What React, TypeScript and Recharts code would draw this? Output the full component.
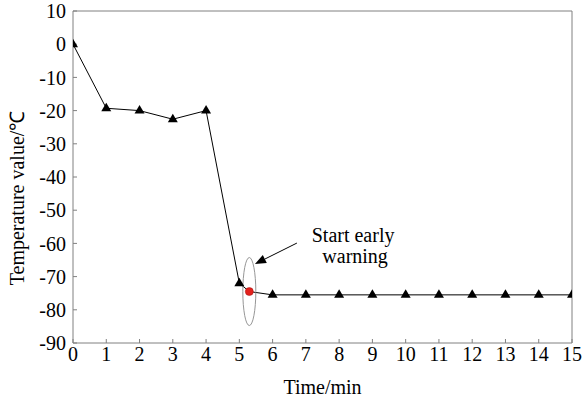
import React from 'react';
import { LineChart, Line, XAxis, YAxis, ReferenceLine, ReferenceDot, Label } from 'recharts';

const times = [0, 1, 2, 3, 4, 5, 5.3, 6, 7, 8, 9, 10, 11, 12, 13, 14, 15];
const temps = [0, -19.3, -20, -22.6, -20, -72, -74.5, -75.5, -75.5, -75.5, -75.5, -75.5, -75.5, -75.5, -75.5, -75.5, -75.5];
const warningIndex = 6;
const xTicks = [0, 1, 2, 3, 4, 5, 6, 7, 8, 9, 10, 11, 12, 13, 14, 15];
const yTicks = [10, 0, -10, -20, -30, -40, -50, -60, -70, -80, -90];
const annotationLines = ['Start early', 'warning'];

const data = times.map((t, i) => ({ t, v: temps[i] }));

const FONT = 'Liberation Serif, Times New Roman, serif';
const AXIS = '#808080';

const renderDot = (props: any) => {
  const { cx, cy, index } = props;
  if (cx == null || cy == null) return <g key={`d${index}`} />;
  if (index === warningIndex) {
    return <circle key={`d${index}`} cx={cx} cy={cy} r={4} fill="#e3211c" stroke="#a01010" strokeWidth={0.5} />;
  }
  return (
    <path
      key={`d${index}`}
      d={`M${cx},${cy - 5.5} L${cx + 5},${cy + 3} L${cx - 5},${cy + 3} Z`}
      fill="#000"
    />
  );
};

const ArrowShape = (props: any) => {
  const { x1, y1, x2, y2 } = props;
  const ang = Math.atan2(y2 - y1, x2 - x1);
  const L = 11;
  const W = 4.5;
  const bx = x2 - L * Math.cos(ang);
  const by = y2 - L * Math.sin(ang);
  const px = -Math.sin(ang) * W;
  const py = Math.cos(ang) * W;
  return (
    <g>
      <line x1={x1} y1={y1} x2={bx} y2={by} stroke="#000" strokeWidth={1} />
      <path d={`M${x2},${y2} L${bx + px},${by + py} L${bx - px},${by - py} Z`} fill="#000" />
    </g>
  );
};

export default function App() {
  return (
    <div style={{ position: 'absolute', left: 0, top: 0, background: '#fff' }}>
      <LineChart
        width={584}
        height={400}
        data={data}
        margin={{ top: 11, right: 12, left: 0, bottom: 0 }}
      >
        <XAxis
          dataKey="t"
          type="number"
          domain={[0, 15]}
          ticks={xTicks}
          interval={0}
          height={57}
          stroke={AXIS}
          tickSize={-4}
          tickMargin={8}
          tick={{ fill: '#000', fontSize: 20, fontFamily: FONT }}
          allowDataOverflow
        >
          <Label
            content={(p: any) => {
              const vb = p.viewBox;
              return (
                <text x={vb.x + vb.width / 2} y={394} textAnchor="middle" fontSize={20} fontFamily={FONT} fill="#000">
                  Time/min
                </text>
              );
            }}
          />
        </XAxis>
        <YAxis
          type="number"
          domain={[-90, 10]}
          ticks={yTicks}
          interval={0}
          width={73}
          stroke={AXIS}
          tickSize={-4}
          tickMargin={11}
          tick={{ fill: '#000', fontSize: 20, fontFamily: FONT }}
          allowDataOverflow
        >
          <Label
            content={(p: any) => {
              const vb = p.viewBox;
              const cx = 24;
              const cy = vb.y + vb.height / 2 + 21;
              return (
                <text
                  x={cx}
                  y={cy}
                  textAnchor="middle"
                  fontSize={20}
                  fontFamily={FONT}
                  fill="#000"
                  transform={`rotate(-90, ${cx}, ${cy})`}
                >
                  Temperature value/℃
                </text>
              );
            }}
          />
        </YAxis>
        <ReferenceLine y={10} stroke={AXIS} strokeWidth={1} />
        <ReferenceLine x={15} stroke={AXIS} strokeWidth={1} />
        <ReferenceDot
          x={times[warningIndex]}
          y={temps[warningIndex]}
          r={1}
          shape={(p: any) => (
            <ellipse cx={p.cx} cy={p.cy} rx={6.5} ry={34} fill="none" stroke="#8a8a8a" strokeWidth={0.9} />
          )}
        />
        <Line
          dataKey="v"
          stroke="#000"
          strokeWidth={1}
          isAnimationActive={false}
          dot={renderDot}
          activeDot={false}
        />
        <ReferenceLine
          segment={[{ x: 6.73, y: -59.9 }, { x: 5.47, y: -66.2 }]}
          shape={(p: any) => <ArrowShape {...p} />}
        />
        <ReferenceDot
          x={8.42}
          y={-59.6}
          r={1}
          shape={(p: any) => (
            <text x={p.cx} y={p.cy} textAnchor="middle" fontSize={20} fontFamily={FONT} fill="#000">
              {annotationLines[0]}
            </text>
          )}
        />
        <ReferenceDot
          x={8.48}
          y={-65.9}
          r={1}
          shape={(p: any) => (
            <text x={p.cx} y={p.cy} textAnchor="middle" fontSize={20} fontFamily={FONT} fill="#000">
              {annotationLines[1]}
            </text>
          )}
        />
      </LineChart>
    </div>
  );
}
